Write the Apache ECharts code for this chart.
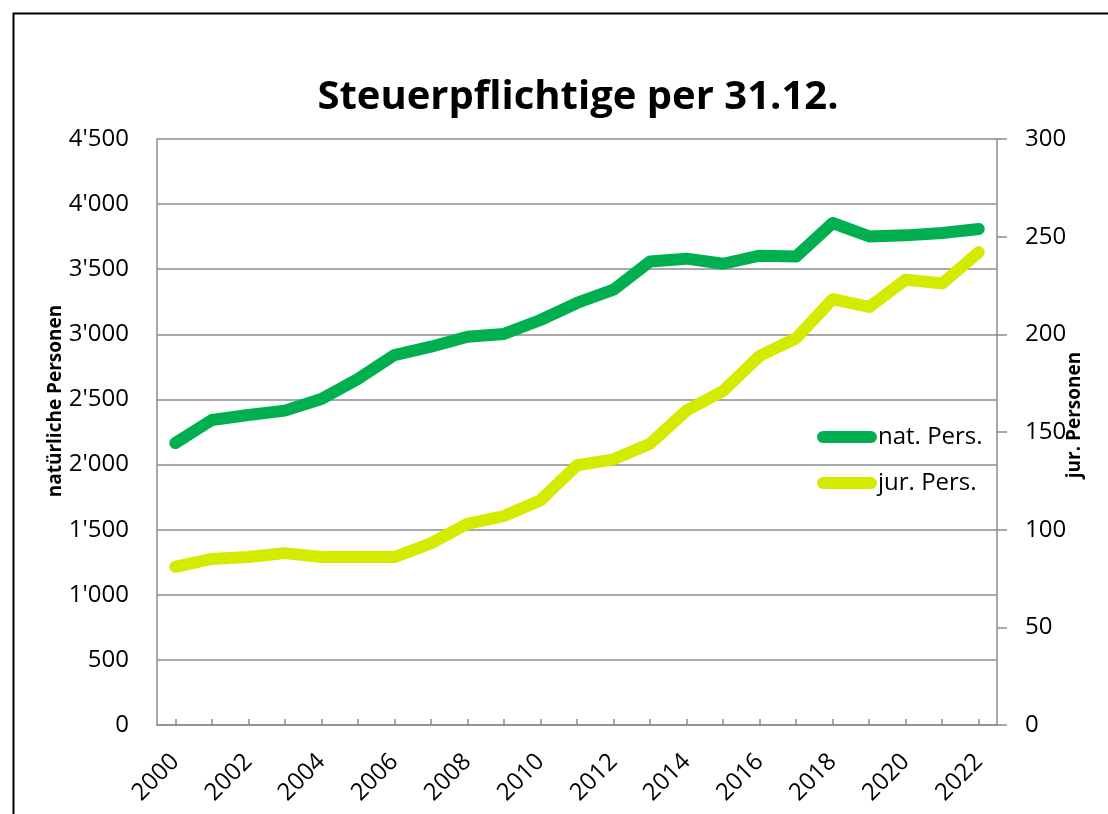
<!DOCTYPE html>
<html>
<head>
<meta charset="utf-8">
<script src="https://cdn.jsdelivr.net/npm/echarts@6/dist/echarts.min.js"></script>
<style>
html,body{margin:0;padding:0;background:#fff;}
#chart{width:1108px;height:814px;}
</style>
</head>
<body>
<div id="chart"></div>
<script>
const years = ['2000','2001','2002','2003','2004','2005','2006','2007','2008','2009','2010','2011','2012','2013','2014','2015','2016','2017','2018','2019','2020','2021','2022'];
const natPers = [2165, 2342, 2381, 2414, 2503, 2657, 2841, 2905, 2982, 3003, 3110, 3241, 3343, 3560, 3581, 3542, 3604, 3598, 3855, 3752, 3760, 3778, 3809];
const jurPers = [81, 85, 86, 88, 86, 86, 86, 93, 103, 107, 115, 133, 136, 144, 161, 171, 189, 198, 218, 214, 228, 226, 242];
const titleText = 'Steuerpflichtige per 31.12.';
const seriesNames = ['nat. Pers.', 'jur. Pers.'];
const leftAxisName = 'natürliche Personen';
const rightAxisName = 'jur. Personen';

const FONT = 'Open Sans';
const GRID_GRAY = '#8c8c8c';
const fmtThousands = v => String(v).replace(/\B(?=(\d{3})+(?!\d))/g, "'");

const chart = echarts.init(document.getElementById('chart'));
chart.setOption({
  animation: false,
  backgroundColor: '#fff',
  textStyle: { fontFamily: FONT },
  title: {
    text: titleText,
    left: 573,
    top: 73,
    textAlign: 'center',
    textStyle: { fontFamily: FONT, fontWeight: 'bold', fontSize: 40, color: '#000' }
  },
  grid: { left: 157, right: 111, top: 139, bottom: 89, containLabel: false },
  legend: {
    orient: 'vertical',
    left: 812,
    top: 420,
    itemWidth: 60,
    itemHeight: 12,
    itemGap: 22,
    icon: 'path://M6,0 H54 A6,6 0 0 1 54,12 H6 A6,6 0 0 1 6,0 Z',
    textStyle: { fontFamily: FONT, fontSize: 24, color: '#000', padding: [0,0,0,-4] },
    data: seriesNames
  },
  xAxis: {
    type: 'category',
    data: years,
    boundaryGap: true,
    axisLine: { lineStyle: { color: GRID_GRAY, width: 1.5 } },
    axisTick: { show: true, inside: true, length: 6, alignWithLabel: true, interval: 0, lineStyle: { color: GRID_GRAY, width: 1.5 } },
    axisLabel: { interval: 1, rotate: 45, margin: 33, fontFamily: FONT, fontSize: 24, color: '#000' },
    splitLine: { show: false }
  },
  yAxis: [
    {
      type: 'value', min: 0, max: 4500, interval: 500, position: 'left',
      axisLine: { show: true, lineStyle: { color: GRID_GRAY, width: 1.5 } },
      axisTick: { show: false },
      axisLabel: { margin: 28, fontFamily: FONT, fontSize: 24, color: '#000', formatter: fmtThousands },
      splitLine: { show: true, lineStyle: { color: GRID_GRAY, width: 1.5 } }
    },
    {
      type: 'value', min: 0, max: 300, interval: 50, position: 'right',
      axisLine: { show: true, lineStyle: { color: GRID_GRAY, width: 1.5 } },
      axisTick: { show: true, inside: false, length: 10, lineStyle: { color: GRID_GRAY, width: 1.5 } },
      axisLabel: { margin: 28, fontFamily: FONT, fontSize: 24, color: '#000' },
      splitLine: { show: false }
    }
  ],
  series: [
    {
      name: seriesNames[0], type: 'line', yAxisIndex: 0, data: natPers,
      showSymbol: false, symbol: 'none', color: '#00B050',
      lineStyle: { width: 12, color: '#00B050', cap: 'round', join: 'round' }
    },
    {
      name: seriesNames[1], type: 'line', yAxisIndex: 1, data: jurPers,
      showSymbol: false, symbol: 'none', color: '#D4EB00',
      lineStyle: { width: 12, color: '#D4EB00', cap: 'round', join: 'round' }
    }
  ],
  graphic: [
    {
      type: 'rect', left: 11, top: 11, silent: true,
      shape: { x: 0, y: 0, width: 1200, height: 900 },
      style: { fill: 'none', stroke: '#000', lineWidth: 2 }
    },
    {
      type: 'text', x: 56, y: 401, rotation: Math.PI / 2, silent: true,
      style: { text: leftAxisName, font: 'bold 19px "Open Sans"', fill: '#000', align: 'center', verticalAlign: 'middle' }
    },
    {
      type: 'text', x: 1075, y: 415, rotation: Math.PI / 2, silent: true,
      style: { text: rightAxisName, font: 'bold 19px "Open Sans"', fill: '#000', align: 'center', verticalAlign: 'middle' }
    }
  ]
});
</script>
</body>
</html>
